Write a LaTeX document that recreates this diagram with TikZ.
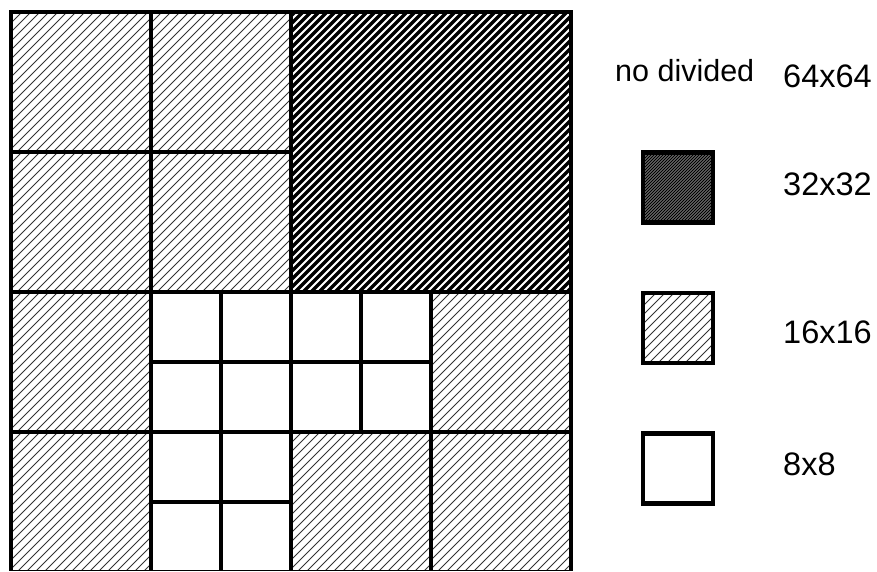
\documentclass[tikz,border=0pt]{standalone}
\usepackage{fontspec}
\setmainfont{Liberation Sans}

\begin{document}
\begin{tikzpicture}[x=1pt,y=-1pt,
  blk/.style={line width=4.5pt},
  cu16/.style={path picture={\foreach \d in {-300,-291,...,300}
    \draw[line width=0.9pt,black!80] ([xshift=\d pt]path picture bounding box.south west) -- ++(300,-300);}},
  cu32/.style={path picture={\foreach \d in {-300,-292,...,300}
    \draw[line width=3.4pt] ([xshift=\d pt]path picture bounding box.south west) -- ++(300,-300);}},
  cu32key/.style={fill=black,path picture={\foreach \d in {-100,-97,...,100}
    \draw[line width=0.6pt,white!70!black] ([xshift=\d pt]path picture bounding box.south west) -- ++(100,-100);}},
  legsq/.style={draw,line width=4.5pt,minimum size=70pt,inner sep=0pt},
  lbl/.style={anchor=base west,inner sep=0pt,font=\fontsize{32.5}{39}\selectfont}]
\useasboundingbox (0,0) rectangle (877,572);
\begin{scope}
\clip (0,0) rectangle (877,570);
% 32x32 block
\path[cu32] (291,12) rectangle (571,292);
\draw[blk] (291,12) rectangle (571,292);
% 16x16 blocks
\foreach \x/\y in {11/12,151/12,11/152,151/152,11/292,431/292,11/432,291/432,431/432}
  {\path[cu16] (\x,\y) rectangle ++(140,140);
   \draw[blk] (\x,\y) rectangle ++(140,140);}
% 8x8 blocks
\foreach \x/\y in {151/292,221/292,291/292,361/292,151/362,221/362,291/362,361/362,151/432,221/432,151/502,221/502}
  \draw[blk] (\x,\y) rectangle ++(70,70);
\end{scope}
% legend
\node[anchor=base west,inner sep=0pt,font=\fontsize{30.5}{36}\selectfont] (nodiv) at (615,82) {no divided};
\node[lbl] (t64) at (783,88) {64x64};
\node[legsq,cu32key] (k32) at (678,187.5) {};
\node[lbl] (t32) at (783,195) {32x32};
\node[legsq,cu16] (k16) at (678,328) {};
\node[lbl] (t16) at (783,343) {16x16};
\node[legsq] (k8) at (678,468.5) {};
\node[lbl] (t8) at (783,475) {8x8};
\end{tikzpicture}
\end{document}
